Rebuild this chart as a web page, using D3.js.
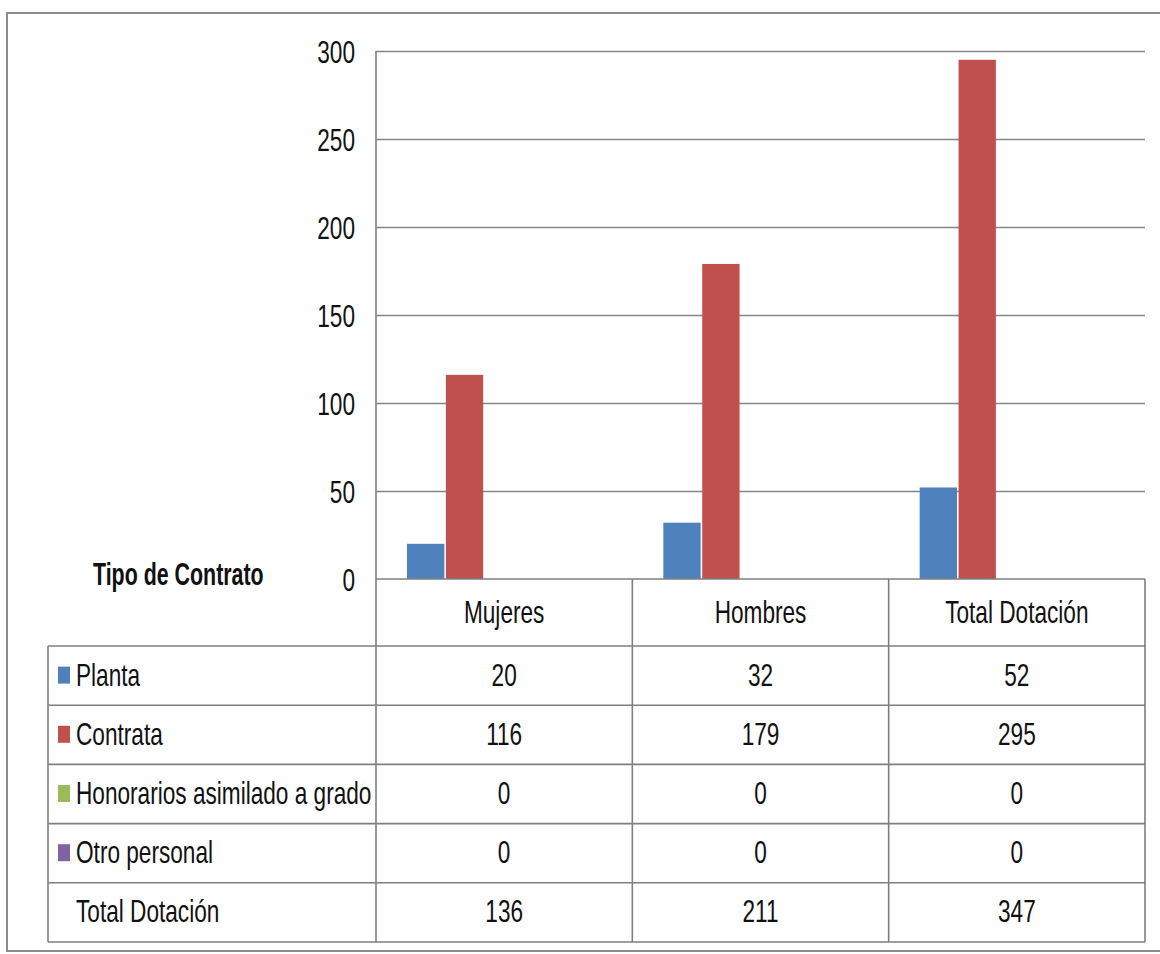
<!DOCTYPE html>
<html>
<head>
<meta charset="utf-8">
<script src="https://cdn.jsdelivr.net/npm/d3@7"></script>
<style>
  html, body { margin: 0; padding: 0; background: #fff; }
  svg { display: block; }
  text { font-family: "Liberation Sans", Arial, sans-serif; fill: #111; }
</style>
</head>
<body>
<svg id="chart" width="1160" height="954"></svg>
<script>
// ---- data ----
const categories = ["Mujeres", "Hombres", "Total Dotación"];
const seriesNames = ["Planta", "Contrata", "Honorarios asimilado a grado", "Otro personal"];
const seriesColors = ["#4F81BD", "#C0504D", "#9BBB59", "#8064A2"];
const planta = [20, 32, 52];
const contrata = [116, 179, 295];
const honorarios = [0, 0, 0];
const otroPersonal = [0, 0, 0];
const totalDotacion = [136, 211, 347];
const yTicks = [0, 50, 100, 150, 200, 250, 300];
const tableTitle = "Tipo de Contrato";
const totalLabel = "Total Dotación";

const seriesValues = [planta, contrata, honorarios, otroPersonal];

// ---- layout ----
const svg = d3.select("#chart");
const plotLeft = 376, plotRight = 1145, plotTop = 51, plotBottom = 579;
const tableLeft = 48;
const headerBottom = 646;
const rowH = 59.2;
const FS = 31, SX = 0.73, SXB = 0.69;

// outer border
svg.append("rect").attr("x", 7).attr("y", 13).attr("width", 1170).attr("height", 938)
  .attr("fill", "none").attr("stroke", "#8c8c8c").attr("stroke-width", 2);

const y = d3.scaleLinear().domain([0, 300]).range([plotBottom, plotTop]);
const x0 = d3.scaleBand().domain(categories).range([plotLeft, plotRight]).padding(0);
const x1 = d3.scaleBand().domain(seriesNames).range([31, 31 + 4 * 38.5]).paddingInner(0.04);

// gridlines
const grid = svg.append("g").attr("transform", `translate(${plotLeft},0)`)
  .call(d3.axisLeft(y).tickValues(yTicks.slice(1)).tickSize(-(plotRight - plotLeft)).tickFormat(""));
grid.select(".domain").remove();
grid.selectAll(".tick line").attr("stroke", "#858585").attr("stroke-width", 1.6);

// y labels
const yAx = svg.append("g").attr("transform", `translate(355,0)`)
  .call(d3.axisLeft(y).tickValues(yTicks).tickSize(0).tickPadding(0));
yAx.select(".domain").remove();
yAx.selectAll(".tick text")
  .attr("x", 0).attr("dy", "0.36em")
  .attr("font-size", FS).attr("font-family", "Liberation Sans, Arial, sans-serif")
  .attr("fill", "#111").attr("text-anchor", "end")
  .attr("transform", `scale(${SX},1)`);

// bars
const barData = [];
categories.forEach((c, ci) => {
  seriesNames.forEach((s, si) => {
    barData.push({ c, s, v: seriesValues[si][ci], color: seriesColors[si] });
  });
});
svg.append("g").selectAll("rect").data(barData.filter(d => d.v > 0)).join("rect")
  .attr("x", d => x0(d.c) + x1(d.s))
  .attr("y", d => y(d.v))
  .attr("width", x1.bandwidth())
  .attr("height", d => y(0) - y(d.v))
  .attr("fill", d => d.color);

// table lines
const lineG = svg.append("g").attr("stroke", "#7f7f7f").attr("stroke-width", 1.6);
const nRows = 5;
const tableBottom = headerBottom + nRows * rowH;
// axis baseline / header top
lineG.append("line").attr("x1", plotLeft).attr("x2", plotRight).attr("y1", plotBottom).attr("y2", plotBottom);
for (let i = 0; i <= nRows; i++) {
  const yy = headerBottom + i * rowH;
  lineG.append("line").attr("x1", tableLeft).attr("x2", plotRight).attr("y1", yy).attr("y2", yy);
}
// verticals
lineG.append("line").attr("x1", plotLeft).attr("x2", plotLeft).attr("y1", plotTop).attr("y2", tableBottom);
lineG.append("line").attr("x1", tableLeft).attr("x2", tableLeft).attr("y1", headerBottom).attr("y2", tableBottom);
categories.forEach(c => {
  const xx = x0(c) + x0.bandwidth();
  lineG.append("line").attr("x1", xx).attr("x2", xx).attr("y1", plotBottom).attr("y2", tableBottom);
});
const firstDiv = x0(categories[0]) + x0.bandwidth();

function addText(g, txt, xx, yy, anchor, bold) {
  g.append("text")
    .attr("transform", `translate(${xx},${yy}) scale(${bold ? SXB : SX},1)`)
    .attr("text-anchor", anchor)
    .attr("font-size", FS)
    .attr("font-weight", bold ? "bold" : "normal")
    .text(txt);
}

const tg = svg.append("g");
// title
addText(tg, tableTitle, 93, 585, "start", true);
// header
categories.forEach(c => addText(tg, c, x0(c) + x0.bandwidth() / 2, 623, "middle", false));
// rows
const rowLabels = seriesNames.concat([totalLabel]);
const rowValues = seriesValues.concat([totalDotacion]);
rowLabels.forEach((lab, ri) => {
  const top = headerBottom + ri * rowH;
  const base = top + rowH / 2 + 10;
  if (ri < seriesNames.length) {
    tg.append("rect").attr("x", 58).attr("y", top + rowH / 2 - 9).attr("width", 12).attr("height", 17)
      .attr("fill", seriesColors[ri]);
  }
  addText(tg, lab, 76, base, "start", false);
  categories.forEach((c, ci) => addText(tg, String(rowValues[ri][ci]), x0(c) + x0.bandwidth() / 2, base, "middle", false));
});
</script>
</body>
</html>
